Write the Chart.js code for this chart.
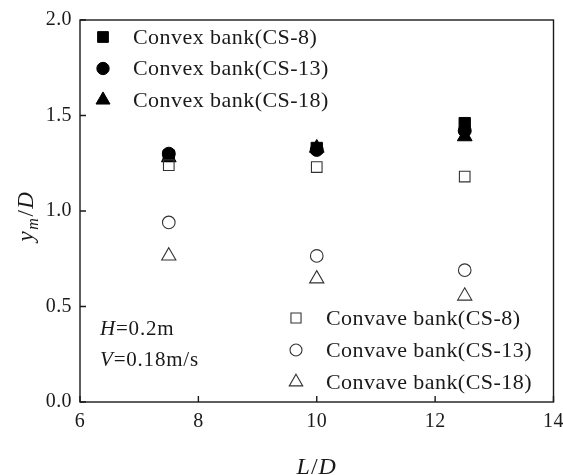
<!DOCTYPE html>
<html>
<head>
<meta charset="utf-8">
<title>Scour depth vs spacing</title>
<script src="https://cdn.jsdelivr.net/npm/chart.js@4/dist/chart.umd.min.js"></script>
<style>
  html, body { margin: 0; padding: 0; background: #ffffff; }
  canvas { display: block; }
</style>
</head>
<body>
<canvas id="chart" width="563" height="475"></canvas>
<script>
// Spacing ratio L/D of each tested layout
const ldRatio = [7.5, 10, 12.5];

// Maximum scour depth ratio y_m/D at the convex bank
const convexCS8  = [1.29, 1.33, 1.46];
const convexCS13 = [1.30, 1.32, 1.42];
const convexCS18 = [1.28, 1.33, 1.39];

// Maximum scour depth ratio y_m/D at the concave bank
const concaveCS8  = [1.24, 1.23, 1.18];
const concaveCS13 = [0.94, 0.765, 0.69];
const concaveCS18 = [0.765, 0.645, 0.555];

// Axis ticks
const xTicks = [6, 8, 10, 12, 14];
const yTicks = [0.0, 0.5, 1.0, 1.5, 2.0];

const seriesLabels = [
  'Convex bank(CS-8)', 'Convex bank(CS-13)', 'Convex bank(CS-18)',
  'Convave bank(CS-8)', 'Convave bank(CS-13)', 'Convave bank(CS-18)'
];

const FONT = '"Liberation Serif", "Times New Roman", serif';
const INK = '#1a1a1a';

function toPoints(ys) {
  return ldRatio.map((x, i) => ({ x: x, y: ys[i] }));
}

function filledSet(label, ys, style, radius) {
  return {
    label: label, data: toPoints(ys),
    pointStyle: style, pointRadius: radius, pointHoverRadius: radius,
    backgroundColor: '#000000', borderColor: '#000000', borderWidth: 1,
    showLine: false, clip: false
  };
}
function openSet(label, ys, style, radius) {
  return {
    label: label, data: toPoints(ys),
    pointStyle: style, pointRadius: radius, pointHoverRadius: radius,
    backgroundColor: 'rgba(255,255,255,0)', borderColor: '#333333', borderWidth: 1.1,
    showLine: false, clip: false
  };
}

const datasets = [
  openSet(seriesLabels[3], concaveCS8, 'rect', 7.5),
  openSet(seriesLabels[4], concaveCS13, 'circle', 6.3),
  openSet(seriesLabels[5], concaveCS18, 'triangle', 8.2),
  filledSet(seriesLabels[2], convexCS18, 'triangle', 8.5),
  filledSet(seriesLabels[1], convexCS13, 'circle', 6.5),
  filledSet(seriesLabels[0], convexCS8, 'rect', 8)
];

// Draw italic/upright text runs one after another
function drawRuns(ctx, runs, x, y, align, spacing) {
  ctx.letterSpacing = (spacing || 0) + 'px';
  let total = 0;
  runs.forEach(r => { ctx.font = r.font; total += ctx.measureText(r.text).width; });
  let cx = align === 'center' ? x - total / 2 : x;
  runs.forEach(r => {
    ctx.font = r.font;
    ctx.textAlign = 'left';
    ctx.textBaseline = 'alphabetic';
    ctx.fillText(r.text, cx, y + (r.dy || 0));
    cx += ctx.measureText(r.text).width;
  });
  ctx.letterSpacing = '0px';
}

const framePlugin = {
  id: 'frame',
  beforeDraw(chart) {
    // slightly wider tick numerals
    chart.ctx.letterSpacing = '0.4px';
  },
  afterDraw(chart) {
    const ctx = chart.ctx;
    const a = chart.chartArea;
    const xs = chart.scales.x, ys = chart.scales.y;
    ctx.save();
    ctx.letterSpacing = '0px';
    ctx.strokeStyle = INK;
    ctx.lineWidth = 1.4;
    ctx.strokeRect(a.left, a.top, a.right - a.left, a.bottom - a.top);

    // inward tick marks on the left and bottom axes
    ctx.beginPath();
    yTicks.forEach(v => {
      const py = ys.getPixelForValue(v);
      ctx.moveTo(a.left, py); ctx.lineTo(a.left + 6, py);
    });
    xTicks.forEach(v => {
      const px = xs.getPixelForValue(v);
      ctx.moveTo(px, a.bottom); ctx.lineTo(px, a.bottom - 6);
    });
    ctx.stroke();

    ctx.fillStyle = INK;
    // axis titles
    const it = 'italic 24px ' + FONT, up = '24px ' + FONT;
    drawRuns(ctx, [{ text: 'L', font: it }, { text: '/', font: up }, { text: 'D', font: it }],
      (a.left + a.right) / 2, 474, 'center', 1);
    ctx.save();
    ctx.translate(33, 216);
    ctx.rotate(-Math.PI / 2);
    drawRuns(ctx, [
      { text: 'y', font: 'italic 23px ' + FONT },
      { text: 'm', font: 'italic 16px ' + FONT, dy: 5 },
      { text: '/', font: '23px ' + FONT },
      { text: 'D', font: 'italic 23px ' + FONT }
    ], 0, 0, 'center', 1.5);
    ctx.restore();

    // test condition notes
    const nf = '21px ' + FONT, ni = 'italic 21px ' + FONT;
    drawRuns(ctx, [{ text: 'H', font: ni }, { text: '=0.2m', font: nf }], a.left + 20, 335, 'left', 0.8);
    drawRuns(ctx, [{ text: 'V', font: ni }, { text: '=0.18m/s', font: nf }], a.left + 20, 366, 'left', 0.8);

    // legends: convex bank block (top left), concave bank block (bottom right)
    const metaByLabel = {};
    chart.data.datasets.forEach(ds => { metaByLabel[ds.label] = ds; });
    const blocks = [
      { labels: seriesLabels.slice(0, 3), x: a.left + 23, y0: 37, step: 31.5 },
      { labels: seriesLabels.slice(3, 6), x: 296, y0: 318, step: 32 }
    ];
    blocks.forEach(b => {
      b.labels.forEach((lab, i) => {
        const ds = metaByLabel[lab];
        const py = b.y0 + i * b.step;
        ctx.save();
        ctx.fillStyle = ds.backgroundColor;
        ctx.strokeStyle = ds.borderColor;
        ctx.lineWidth = ds.borderWidth;
        Chart.helpers.drawPoint(ctx, { pointStyle: ds.pointStyle, radius: ds.pointRadius * 0.95, rotation: 0, borderWidth: ds.borderWidth }, b.x, py);
        ctx.restore();
        ctx.fillStyle = INK;
        ctx.font = '22px ' + FONT;
        ctx.letterSpacing = '0.45px';
        ctx.textAlign = 'left';
        ctx.textBaseline = 'middle';
        ctx.fillText(lab, b.x + 30, py + 1);
        ctx.letterSpacing = '0px';
      });
    });
    ctx.restore();
  }
};

new Chart(document.getElementById('chart'), {
  type: 'scatter',
  data: { datasets: datasets },
  options: {
    responsive: false,
    animation: false,
    devicePixelRatio: 1,
    layout: { padding: { top: 20, right: 8, left: 0, bottom: 0 } },
    plugins: { legend: { display: false }, tooltip: { enabled: false } },
    scales: {
      x: {
        type: 'linear', min: 6, max: 14,
        afterBuildTicks: s => { s.ticks = xTicks.map(v => ({ value: v })); },
        afterFit: s => { s.height = 73; s.paddingLeft = 0; s.paddingRight = 0; },
        grid: { display: false, drawTicks: false },
        border: { display: false },
        ticks: { color: INK, font: { family: FONT, size: 20 }, padding: 8, maxRotation: 0,
                 callback: v => String(v) }
      },
      y: {
        type: 'linear', min: 0, max: 2,
        afterBuildTicks: s => { s.ticks = yTicks.map(v => ({ value: v })); },
        afterFit: s => { s.width = 80; s.paddingTop = 0; s.paddingBottom = 0; },
        grid: { display: false, drawTicks: false },
        border: { display: false },
        ticks: { color: INK, font: { family: FONT, size: 20 }, padding: 8,
                 callback: v => Number(v).toFixed(1) }
      }
    }
  },
  plugins: [framePlugin]
});
</script>
</body>
</html>
